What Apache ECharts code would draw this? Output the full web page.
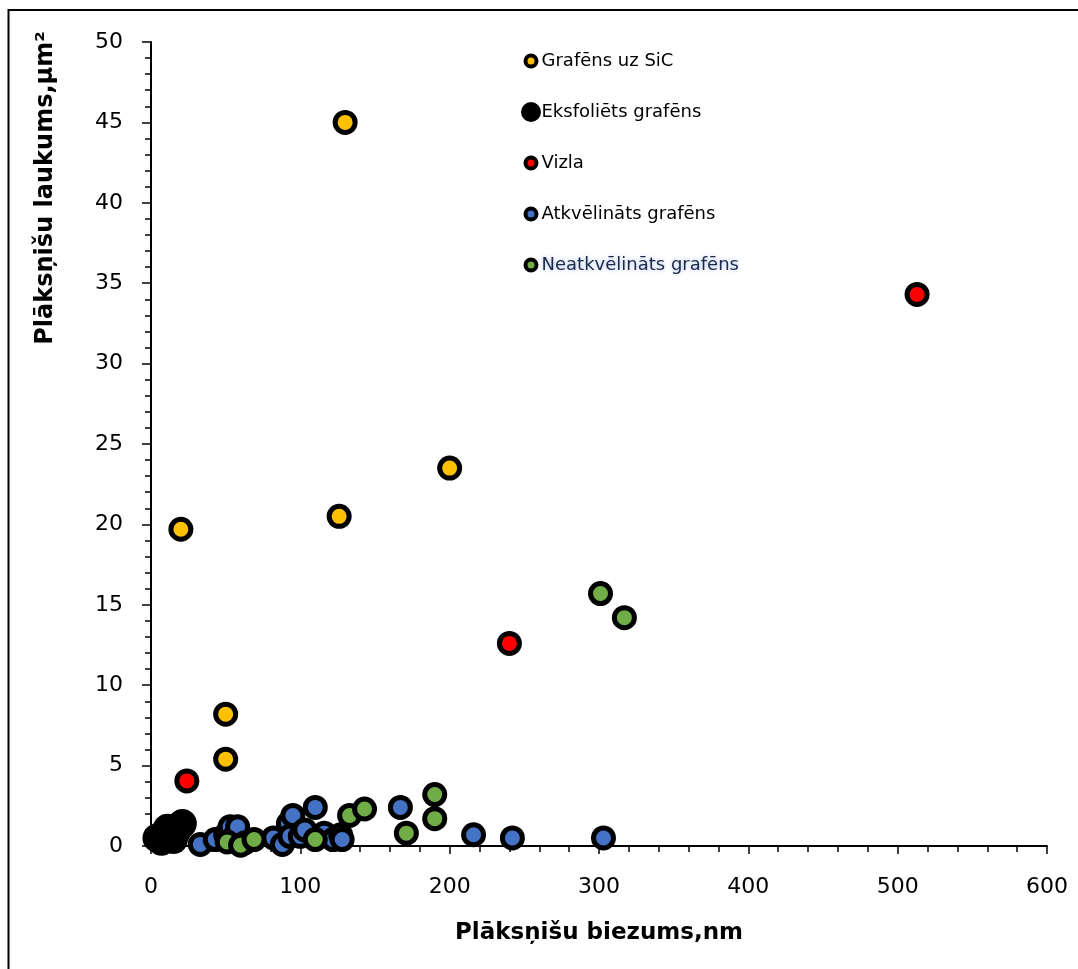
<!DOCTYPE html>
<html>
<head>
<meta charset="utf-8">
<script src="https://cdn.jsdelivr.net/npm/echarts@6/dist/echarts.min.js"></script>
<style>html,body{margin:0;padding:0;background:#fff;}#c{width:1078px;height:969px;}</style>
</head>
<body>
<div id="c"></div>
<script>
// ---- data ----
var seriesNames = ['Grafēns uz SiC', 'Eksfoliēts grafēns', 'Vizla', 'Atkvēlināts grafēns', 'Neatkvēlināts grafēns'];
var xTitle = 'Plāksņišu biezums,nm';
var yTitle = 'Plāksņišu laukums,µm²';
var sicData = [[130, 45.0], [20, 19.7], [126, 20.5], [200, 23.5], [50, 8.2], [50, 5.4]];
var exfData = [[4, 0.5], [7, 0.3], [9, 0.8], [11, 1.1], [13, 0.6], [15, 0.4], [17, 0.9], [20, 1.3], [21, 1.4]];
var micaData = [[513, 34.3], [240, 12.6], [24, 4.05]];
var annealedData = [[33, 0.1], [43, 0.4], [50, 0.7], [53, 1.2], [56, 0.6], [58, 1.2], [63, 0.2], [82, 0.5], [88, 0.1],
  [92, 1.4], [93, 0.6], [95, 1.9], [100, 0.6], [103, 1.0], [110, 2.4], [116, 0.8], [122, 0.4], [127, 0.7], [128, 0.4],
  [167, 2.4], [216, 0.7], [242, 0.5], [303, 0.5]];
var unannealedData = [[51, 0.25], [60, 0.05], [69, 0.4], [110, 0.4], [133, 1.9], [143, 2.3], [171, 0.8], [190, 3.2], [190, 1.7], [301, 15.7], [317, 14.2]];
var colors = ['#FFC000', '#000000', '#FF0000', '#4472C4', '#70AD47'];
var xTicks = {min: 0, max: 600, interval: 100};
var yTicks = {min: 0, max: 50, interval: 5};

var chart = echarts.init(document.getElementById('c'));
var font = 'DejaVu Sans';
var datasets = [sicData, exfData, micaData, annealedData, unannealedData];
var series = datasets.map(function (d, i) {
  return {
    name: seriesNames[i],
    type: 'scatter',
    data: d,
    symbol: 'circle',
    symbolSize: i === 1 ? 24 : 20,
    itemStyle: {color: colors[i], borderColor: '#000', borderWidth: 5, opacity: 1},
    emphasis: {disabled: true},
    z: 2 + i
  };
});
chart.setOption({
  animation: false,
  backgroundColor: '#fff',
  grid: {left: 151, right: 31, top: 42, bottom: 123},
  xAxis: {
    type: 'value', min: xTicks.min, max: xTicks.max, interval: xTicks.interval,
    splitLine: {show: false},
    axisLine: {show: true, onZero: false, lineStyle: {color: '#000', width: 2}},
    axisTick: {show: true, inside: false, length: 8, lineStyle: {color: '#000', width: 1.5}},
    minorTick: {show: true, splitNumber: 5, length: 6, lineStyle: {color: '#000', width: 1.5}},
    axisLabel: {color: '#000', fontFamily: font, fontSize: 22, margin: 30},
    name: xTitle, nameLocation: 'middle', nameGap: 76,
    nameTextStyle: {color: '#000', fontFamily: font, fontSize: 23, fontWeight: 'bold'}
  },
  yAxis: {
    type: 'value', min: yTicks.min, max: yTicks.max, interval: yTicks.interval,
    splitLine: {show: false},
    axisLine: {show: true, onZero: false, lineStyle: {color: '#000', width: 2}},
    axisTick: {show: true, inside: false, length: 9, lineStyle: {color: '#000', width: 1.5}},
    minorTick: {show: true, splitNumber: 5, length: 6, lineStyle: {color: '#000', width: 1.5}},
    axisLabel: {color: '#000', fontFamily: font, fontSize: 22, margin: 28}
  },
  legend: {
    orient: 'vertical', left: 521, top: 50, padding: 0,
    itemWidth: 11, itemHeight: 11, itemGap: 29,
    icon: 'circle',
    itemStyle: {borderColor: '#000', borderWidth: 4},
    textStyle: {color: '#000', fontFamily: font, fontSize: 18, lineHeight: 22, padding: [0, 0, 0, 0]},
    data: [
      {name: seriesNames[0]},
      {name: seriesNames[1], itemStyle: {borderWidth: 9}},
      {name: seriesNames[2]},
      {name: seriesNames[3]},
      {name: seriesNames[4], textStyle: {color: '#1c2a4a', textShadowColor: 'rgba(120,150,220,0.6)', textShadowBlur: 4}}
    ],
    selectedMode: false
  },
  graphic: [
    {type: 'rect', silent: true, shape: {x: 8.5, y: 10, width: 1300, height: 1300},
      style: {fill: 'none', stroke: '#000', lineWidth: 2}},
    {type: 'text', silent: true, x: 46, y: 188, rotation: Math.PI / 2,
      style: {text: yTitle, fill: '#000', font: 'bold 24px "DejaVu Sans"', textAlign: 'center', textVerticalAlign: 'middle'}}
  ],
  series: series
});
</script>
</body>
</html>
